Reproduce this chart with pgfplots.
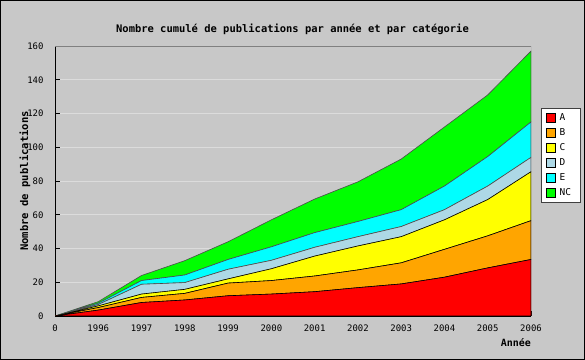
\documentclass[border=0pt]{standalone}
\usepackage{pgfplots}
\pgfplotsset{compat=1.18}
\usepackage{fontspec}
\setmainfont{DejaVu Sans Mono}
\definecolor{bg}{HTML}{C8C8C8}
\definecolor{cA}{HTML}{FF0000}
\definecolor{cB}{HTML}{FFA500}
\definecolor{cC}{HTML}{FFFF00}
\definecolor{cD}{HTML}{ADD8E6}
\definecolor{cE}{HTML}{00FFFF}
\definecolor{cNC}{HTML}{00FF00}
\definecolor{gridc}{HTML}{DCDCDC}
\begin{document}
\begin{tikzpicture}
\fill[bg] (0bp,0bp) rectangle (585bp,360bp);
\draw[black, line width=1bp] (0.5bp,0.5bp) rectangle (584.5bp,359.5bp);
\node[font=\bfseries\fontsize{10.5}{12}\selectfont] at (292.5bp,331bp) {Nombre cumulé de publications par année et par catégorie};
\begin{axis}[
  at={(55bp,44bp)}, anchor=south west,
  scale only axis, width=476bp, height=270bp,
  xmin=1995, xmax=2006, ymin=0, ymax=160,
  axis x line*=bottom, axis y line*=left,
  axis line style={black, line width=0.8bp, -},
  xtick={1995,1996,...,2006},
  xticklabels={0,1996,1997,1998,1999,2000,2001,2002,2003,2004,2005,2006},
  ytick={0,20,...,160},
  tick align=inside, major tick length=5bp,
  tick style={black, line width=0.6bp},
  ymajorgrids, grid style={gridc, line width=0.8bp},
  /pgf/number format/assume math mode=true,
  ticklabel style={font=\fontsize{9}{10}\selectfont},
  xticklabel style={yshift=-5bp},
  yticklabel style={xshift=-8bp},
  xlabel={Année},
  xlabel style={at={(rel axis cs:1,0)}, anchor=north east, yshift=-22bp, inner sep=0pt, font=\bfseries\fontsize{10}{11}\selectfont},
  ylabel={Nombre de publications},
  ylabel style={at={(rel axis cs:0,0.5)}, anchor=center, yshift=30bp, font=\bfseries\fontsize{10.6}{12}\selectfont},
  stack plots=y,
  legend image code/.code={\draw[#1, draw=black, line width=0.4bp] (0bp,-4.2bp) rectangle (8.5bp,4.2bp);},
  legend style={at={(1.021,0.770)}, anchor=north west, draw=black!75, fill=white,
    font=\fontsize{9.5}{10}\selectfont, row sep=2.6bp, inner xsep=5bp, inner ysep=3bp,
    cells={anchor=west}, line width=0.6bp,
    nodes={inner xsep=4.5bp}},
]
\addplot[fill=cA, draw=black, line width=0.6bp] coordinates {
(1995,0) (1996,3.5) (1997,8) (1998,9.5) (1999,12) (2000,13) (2001,14.4) (2002,16.8) (2003,19) (2004,23) (2005,28.5) (2006,33.5)} \closedcycle;
\addplot[fill=cB, draw=black, line width=0.6bp] coordinates {
(1995,0) (1996,1.5) (1997,3) (1998,3.9) (1999,7.5) (2000,8) (2001,9.3) (2002,10.5) (2003,12.5) (2004,16.5) (2005,19) (2006,23)} \closedcycle;
\addplot[fill=cC, draw=black, line width=0.6bp] coordinates {
(1995,0) (1996,1) (1997,2) (1998,2.4) (1999,2.5) (2000,7) (2001,11.8) (2002,14.2) (2003,15.5) (2004,17.5) (2005,21.5) (2006,29)} \closedcycle;
\addplot[fill=cD, draw=black!70, line width=0.6bp] coordinates {
(1995,0) (1996,0.8) (1997,5.8) (1998,4) (1999,5.7) (2000,5) (2001,5.2) (2002,5.5) (2003,6) (2004,6) (2005,8) (2006,8.5)} \closedcycle;
\addplot[fill=cE, draw=black!70, line width=0.6bp] coordinates {
(1995,0) (1996,0.8) (1997,2.2) (1998,4.5) (1999,5.8) (2000,8) (2001,8.7) (2002,9) (2003,10) (2004,14) (2005,17.5) (2006,21)} \closedcycle;
\addplot[fill=cNC, draw=black!70, line width=0.6bp] coordinates {
(1995,0) (1996,0.9) (1997,3) (1998,8.5) (1999,10.5) (2000,16) (2001,19.9) (2002,23.5) (2003,30) (2004,35) (2005,36.5) (2006,42)} \closedcycle;
\legend{A,B,C,D,E,NC}
\draw[gray, line width=0.6bp] (rel axis cs:0,1) -- (rel axis cs:1,1) -- (rel axis cs:1,0);
\end{axis}
\pgfresetboundingbox
\useasboundingbox (0bp,0bp) rectangle (585bp,360bp);
\end{tikzpicture}
\end{document}
